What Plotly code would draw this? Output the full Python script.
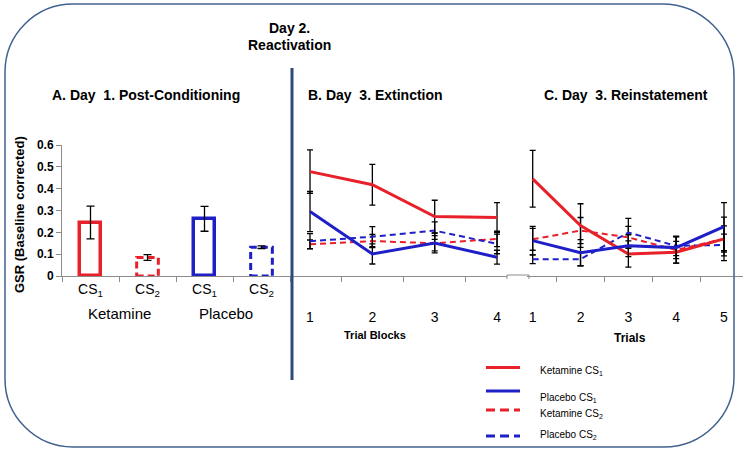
import plotly.graph_objects as go

W, H = 746, 455

# ---------------- data ----------------
# Panel A: Day 1 post-conditioning (bars)
bar_categories = ["Ketamine CS1", "Ketamine CS2", "Placebo CS1", "Placebo CS2"]
bar_ticktext = ["CS<sub>1</sub>", "CS<sub>2</sub>", "CS<sub>1</sub>", "CS<sub>2</sub>"]
bar_values = [0.245, 0.085, 0.262, 0.132]
bar_errors = [0.075, 0.013, 0.057, 0.006]
bar_groups = ["Ketamine", "Placebo"]

# Panel B: Day 3 extinction (trial blocks)
ext_blocks = [1, 2, 3, 4]
ext_ket_cs1 = [0.478, 0.418, 0.272, 0.268]
ext_ket_cs1_err = [0.100, 0.093, 0.075, 0.068]
ext_pla_cs1 = [0.295, 0.101, 0.151, 0.086]
ext_pla_cs1_err = [0.092, 0.046, 0.045, 0.032]
ext_ket_cs2 = [0.145, 0.160, 0.150, 0.170]
ext_ket_cs2_err = [0.020, 0.030, 0.035, 0.035]
ext_pla_cs2 = [0.159, 0.180, 0.208, 0.147]
ext_pla_cs2_err = [0.035, 0.046, 0.040, 0.045]

# Panel C: Day 3 reinstatement (trials)
rein_trials = [1, 2, 3, 4, 5]
rein_ket_cs1 = [0.445, 0.231, 0.101, 0.109, 0.170]
rein_ket_cs1_err = [0.130, 0.100, 0.060, 0.050, 0.100]
rein_pla_cs1 = [0.162, 0.107, 0.139, 0.130, 0.226]
rein_pla_cs1_err = [0.065, 0.060, 0.050, 0.050, 0.110]
rein_ket_cs2 = [0.168, 0.208, 0.177, 0.119, 0.170]
rein_ket_cs2_err = [0.050, 0.060, 0.050, 0.060, 0.060]
rein_pla_cs2 = [0.077, 0.077, 0.199, 0.138, 0.142]
rein_pla_cs2_err = [0.020, 0.030, 0.065, 0.045, 0.050]

y_ticks = [0, 0.1, 0.2, 0.3, 0.4, 0.5, 0.6]

legend_labels = ["Ketamine CS<sub>1</sub>", "Placebo CS<sub>1</sub>",
                 "Ketamine CS<sub>2</sub>", "Placebo CS<sub>2</sub>"]

# ---------------- style ----------------
RED = "#E8202A"
BLUE = "#1F1FC8"
AXC = "#8c8c8c"
NAVY = "#2E4A7D"
FONT = "Arial, Liberation Sans, sans-serif"


def px(x):
    return x / W


def py(y):
    return 1 - y / H


def err(arr, w=3):
    return dict(type="data", array=arr, color="black", thickness=1.3, width=w)


fig = go.Figure()

# Panel A bars
bar_colors = [RED, RED, BLUE, BLUE]
is_cs2 = [c.endswith("CS2") for c in bar_categories]
fig.add_trace(go.Bar(
    x=bar_categories, y=bar_values, width=0.38,
    marker=dict(color=["rgba(0,0,0,0)" if d else "white" for d in is_cs2],
                line=dict(color=bar_colors, width=[0 if d else 3.5 for d in is_cs2])),
    error_y=err(bar_errors, 4), xaxis="x", yaxis="y", showlegend=False,
))

shapes = []
for i, (v, c, d) in enumerate(zip(bar_values, bar_colors, is_cs2)):
    if d:
        shapes.append(dict(type="rect", xref="x", yref="y", x0=i - 0.19, x1=i + 0.19,
                           y0=0, y1=v, line=dict(color=c, width=3, dash="7px,4px"),
                           layer="below"))

# Panels B and C lines
series = [
    ("x2", ext_blocks, ext_ket_cs2, ext_ket_cs2_err, RED, "dash"),
    ("x2", ext_blocks, ext_pla_cs2, ext_pla_cs2_err, BLUE, "dash"),
    ("x2", ext_blocks, ext_ket_cs1, ext_ket_cs1_err, RED, "solid"),
    ("x2", ext_blocks, ext_pla_cs1, ext_pla_cs1_err, BLUE, "solid"),
    ("x3", rein_trials, rein_ket_cs2, rein_ket_cs2_err, RED, "dash"),
    ("x3", rein_trials, rein_pla_cs2, rein_pla_cs2_err, BLUE, "dash"),
    ("x3", rein_trials, rein_ket_cs1, rein_ket_cs1_err, RED, "solid"),
    ("x3", rein_trials, rein_pla_cs1, rein_pla_cs1_err, BLUE, "solid"),
]
for xa, xs, ys, es, col, dash in series:
    fig.add_trace(go.Scatter(
        x=xs, y=ys, mode="lines", xaxis=xa, yaxis="y",
        line=dict(color=col, width=3 if dash == "solid" else 2,
                  dash="solid" if dash == "solid" else "6px,4px"),
        error_y=err(es, 3), showlegend=False, cliponaxis=False,
    ))

# ---------------- decorations ----------------
# rounded border
L, T, R, B = 5, 4, 734, 447
rtl, rtr, rbr, rbl = 68, 72, 70, 68
k = 0.5523


def P(x, y):
    return f"{px(x):.5f},{py(y):.5f}"


path = (f"M {P(L, T + rtl)} "
        f"C {P(L, T + rtl - k * rtl)} {P(L + rtl - k * rtl, T)} {P(L + rtl, T)} "
        f"L {P(R - rtr, T)} "
        f"C {P(R - rtr + k * rtr, T)} {P(R, T + rtr - k * rtr)} {P(R, T + rtr)} "
        f"L {P(R, B - rbr)} "
        f"C {P(R, B - rbr + k * rbr)} {P(R - rbr + k * rbr, B)} {P(R - rbr, B)} "
        f"L {P(L + rbl, B)} "
        f"C {P(L + rbl - k * rbl, B)} {P(L, B - rbl + k * rbl)} {P(L, B - rbl)} Z")
shapes.append(dict(type="path", xref="paper", yref="paper", path=path,
                   line=dict(color="#41618F", width=1.5)))

# vertical divider
shapes.append(dict(type="line", xref="paper", yref="paper", x0=px(292), x1=px(292),
                   y0=py(68), y1=py(380), line=dict(color=NAVY, width=3)))

# small box on axis
shapes.append(dict(type="path", xref="paper", yref="paper",
                   path=f"M {P(507, 279)} L {P(507, 275)} L {P(529, 275)} L {P(529, 279)}",
                   line=dict(color=AXC, width=1)))

# legend sample lines
leg_y = [367.5, 391, 410, 436]
leg_text_y = [371, 398, 414, 435]
leg_style = [(RED, "solid"), (BLUE, "solid"), (RED, "9px,5px"), (BLUE, "9px,5px")]
for yy, (col, dash) in zip(leg_y, leg_style):
    shapes.append(dict(type="line", xref="paper", yref="paper", x0=px(486), x1=px(520),
                       y0=py(yy), y1=py(yy), line=dict(color=col, width=3, dash=dash)))

annotations = []


def ann(text, x, y, size, bold=False, xanchor="center", angle=0):
    annotations.append(dict(
        text=f"<b>{text}</b>" if bold else text, x=px(x), y=py(y), xref="paper", yref="paper",
        showarrow=False, xanchor=xanchor, yanchor="middle", textangle=angle,
        font=dict(family=FONT, size=size, color="black")))


ann("Day 2.", 289, 28, 14, True)
ann("Reactivation", 289, 45, 14, True)
ann("A. Day\u00a0\u00a01. Post-Conditioning", 146, 95, 14, True)
ann("B. Day\u00a0\u00a03. Extinction", 375, 95, 14, True)
ann("C. Day\u00a0\u00a03. Reinstatement", 626, 95, 14, True)
ann("GSR (Baseline corrected)", 19, 215, 13, True, angle=-90)
ann(bar_groups[0], 119, 313, 15)
ann(bar_groups[1], 226, 313, 15)
ann("Trial Blocks", 375, 335, 11, True)
ann("Trials", 630, 338, 12, True)
for t, yy in zip(legend_labels, leg_text_y):
    ann(t, 538, yy, 10, xanchor="left")

# ---------------- layout ----------------
ydom = [py(276), py(145)]
fig.update_layout(
    width=W, height=H, margin=dict(l=0, r=0, t=0, b=0, pad=0, autoexpand=False),
    paper_bgcolor="white", plot_bgcolor="white",
    font=dict(family=FONT, color="black"),
    bargap=0, showlegend=False,
    shapes=shapes, annotations=annotations,
    xaxis=dict(domain=[px(62), px(290)], anchor="y", type="category",
               categoryorder="array", categoryarray=bar_categories,
               range=[-0.5, 3.5], tickvals=bar_categories, ticktext=bar_ticktext,
               tickson="boundaries", ticks="outside", ticklen=5, tickcolor=AXC,
               showline=True, linecolor=AXC, linewidth=1, showgrid=False, automargin=False,
               tickfont=dict(size=14, family=FONT), zeroline=False, fixedrange=True),
    yaxis=dict(domain=ydom, range=[0, 0.6], tickvals=y_ticks,
               ticktext=[f"<b>{v:g}</b>" for v in y_ticks], automargin=False,
               ticks="outside", ticklen=5, tickcolor=AXC, showline=True, linecolor=AXC,
               showgrid=False, zeroline=False, tickfont=dict(size=12, family=FONT)),
    xaxis2=dict(domain=[px(290), px(507)], anchor="y", range=[0.679, 4.16],
                tickvals=ext_blocks, ticktext=[str(v) for v in ext_blocks], ticks="",
                minor=dict(tickvals=[1.5, 2.5, 3.5], ticks="outside", ticklen=5, tickcolor=AXC),
                ticklabelstandoff=28, tickfont=dict(size=14, family=FONT), automargin=False,
                showline=True, linecolor=AXC, showgrid=False, zeroline=False),
    xaxis3=dict(domain=[px(527), px(743)], anchor="y", range=[0.881, 5.397],
                tickvals=rein_trials, ticktext=[str(v) for v in rein_trials], ticks="",
                minor=dict(tickvals=[1.5, 2.5, 3.5, 4.5], ticks="outside", ticklen=5,
                           tickcolor=AXC),
                ticklabelstandoff=28, tickfont=dict(size=14, family=FONT), automargin=False,
                showline=True, linecolor=AXC, showgrid=False, zeroline=False),
)

fig.write_html("out.html", config={"displayModeBar": False},
               post_script="document.body.style.margin='0';")
